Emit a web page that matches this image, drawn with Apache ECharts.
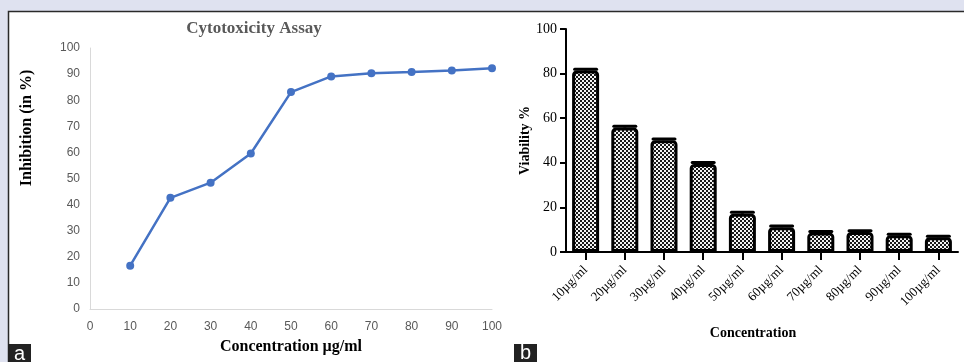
<!DOCTYPE html>
<html>
<head>
<meta charset="utf-8">
<script src="https://cdn.jsdelivr.net/npm/echarts@6/dist/echarts.min.js"></script>
<style>
html,body{margin:0;padding:0;background:#dfe2f0;}
#chart{width:964px;height:362px;}
</style>
</head>
<body>
<div id="chart"></div>
<script>
// Panel a: cytotoxicity (line)
const concX = [10, 20, 30, 40, 50, 60, 70, 80, 90, 100];
const inhibition = [16.6, 42.6, 48.4, 59.6, 83.1, 89.1, 90.3, 90.8, 91.4, 92.2];
// Panel b: viability (bars)
const barCats = ['10µg/ml', '20µg/ml', '30µg/ml', '40µg/ml', '50µg/ml', '60µg/ml', '70µg/ml', '80µg/ml', '90µg/ml', '100µg/ml'];
const viability = [81.4, 55.8, 50.1, 39.5, 17.2, 11.1, 8.7, 9.0, 7.5, 6.6];
const viabilityErr = [0.6, 0.6, 0.6, 0.6, 0.6, 0.6, 0.5, 0.5, 0.5, 0.5];
const titleA = 'Cytotoxicity Assay';
const yNameA = 'Inhibition (in %)';

const chart = echarts.init(document.getElementById('chart'), null, {renderer: 'canvas'});

// checker pattern for bars
const pc = document.createElement('canvas');
pc.width = 4; pc.height = 4;
const pctx = pc.getContext('2d');
pctx.fillStyle = '#f4f4f4'; pctx.fillRect(0, 0, 4, 4);
pctx.fillStyle = '#1a1a1a'; pctx.fillRect(0, 0, 2, 2); pctx.fillRect(2, 2, 2, 2);

const serif = '"Liberation Serif", "DejaVu Serif", serif';
const sans = '"Liberation Sans", Arial, sans-serif';

chart.setOption({
  animation: false,
  backgroundColor: 'transparent',
  graphic: [
    {type: 'rect', z: -10, shape: {x: 8.5, y: 11.5, width: 970, height: 360},
     style: {fill: '#ffffff', stroke: '#2a2a2a', lineWidth: 1.5}},
    {type: 'text', style: {text: titleA, x: 254, y: 29, align: 'center', verticalAlign: 'middle',
      font: 'bold 17px ' + serif, fill: '#595959'}},
    {type: 'text', x: 27, y: 128, rotation: Math.PI / 2,
     style: {text: yNameA, x: 0, y: 0, align: 'center', verticalAlign: 'middle',
      font: 'bold 16px ' + serif, fill: '#000'}},
    {type: 'rect', shape: {x: 8, y: 344, width: 23, height: 18}, style: {fill: '#222222'}},
    {type: 'text', style: {text: 'a', x: 19.5, y: 354, align: 'center', verticalAlign: 'middle',
      font: '20px ' + sans, fill: '#ffffff'}},
    {type: 'rect', shape: {x: 514, y: 344, width: 23, height: 18}, style: {fill: '#222222'}},
    {type: 'text', style: {text: 'b', x: 525.5, y: 353, align: 'center', verticalAlign: 'middle',
      font: '20px ' + sans, fill: '#ffffff'}}
  ],
  grid: [
    {left: 90, right: 472, top: 48, bottom: 53, outerBoundsMode: 'none', containLabel: false},
    {left: 566, right: 6, top: 29, bottom: 110, outerBoundsMode: 'none', containLabel: false}
  ],
  xAxis: [
    {type: 'value', gridIndex: 0, min: 0, max: 100, interval: 10,
     name: 'Concentration µg/ml', nameLocation: 'middle', nameGap: 30,
     nameTextStyle: {fontFamily: serif, fontWeight: 'bold', fontSize: 16, color: '#000'},
     axisLine: {show: true, lineStyle: {color: '#d9d9d9', width: 1}},
     axisTick: {show: false}, splitLine: {show: false},
     axisLabel: {color: '#595959', fontFamily: sans, fontSize: 12, margin: 12}},
    {type: 'category', gridIndex: 1, data: barCats,
     name: 'Concentration', nameLocation: 'middle', nameGap: 74,
     nameTextStyle: {fontFamily: serif, fontWeight: 'bold', fontSize: 14, color: '#000', padding: [0, 18, 0, 0]},
     axisLine: {show: true, lineStyle: {color: '#000', width: 2}},
     axisTick: {show: true, alignWithLabel: true, length: 8, lineStyle: {color: '#000', width: 2}},
     axisLabel: {rotate: 45, color: '#000', fontFamily: serif, fontSize: 13, margin: 16}}
  ],
  yAxis: [
    {type: 'value', gridIndex: 0, min: 0, max: 100, interval: 10,
     axisLine: {show: true, lineStyle: {color: '#d9d9d9', width: 1}},
     axisTick: {show: false}, splitLine: {show: false},
     axisLabel: {color: '#595959', fontFamily: sans, fontSize: 12, margin: 10}},
    {type: 'value', gridIndex: 1, min: 0, max: 100, interval: 20,
     name: 'Viability %', nameLocation: 'middle', nameGap: 34,
     nameTextStyle: {fontFamily: serif, fontWeight: 'bold', fontSize: 14, color: '#000'},
     axisLine: {show: true, lineStyle: {color: '#000', width: 2}},
     axisTick: {show: true, length: 6, lineStyle: {color: '#000', width: 2}},
     splitLine: {show: false},
     axisLabel: {color: '#000', fontFamily: serif, fontSize: 14, margin: 9}}
  ],
  series: [
    {type: 'line', xAxisIndex: 0, yAxisIndex: 0,
     data: concX.map((x, i) => [x, inhibition[i]]),
     symbol: 'circle', symbolSize: 8,
     lineStyle: {color: '#4472c4', width: 2.5},
     itemStyle: {color: '#4472c4'}},
    {type: 'bar', xAxisIndex: 1, yAxisIndex: 1, data: viability,
     barWidth: 27,
     itemStyle: {color: {image: pc, repeat: 'repeat'}, borderColor: '#000', borderWidth: 3,
       borderRadius: [3, 3, 0, 0]}},
    {type: 'custom', xAxisIndex: 1, yAxisIndex: 1, z: 5,
     data: viability.map((v, i) => [i, v, viabilityErr[i]]),
     renderItem: function (params, api) {
       const i = api.value(0);
       const top = api.coord([i, api.value(1) + api.value(2)]);
       const base = api.coord([i, api.value(1)]);
       const hw = 11;
       return {type: 'group', children: [
         {type: 'line', shape: {x1: top[0], y1: top[1], x2: base[0], y2: base[1]},
          style: {stroke: '#000', lineWidth: 3}},
         {type: 'line', shape: {x1: top[0] - hw, y1: top[1], x2: top[0] + hw, y2: top[1]},
          style: {stroke: '#000', lineWidth: 3, lineCap: 'round'}}
       ]};
     }}
  ]
});
</script>
</body>
</html>
